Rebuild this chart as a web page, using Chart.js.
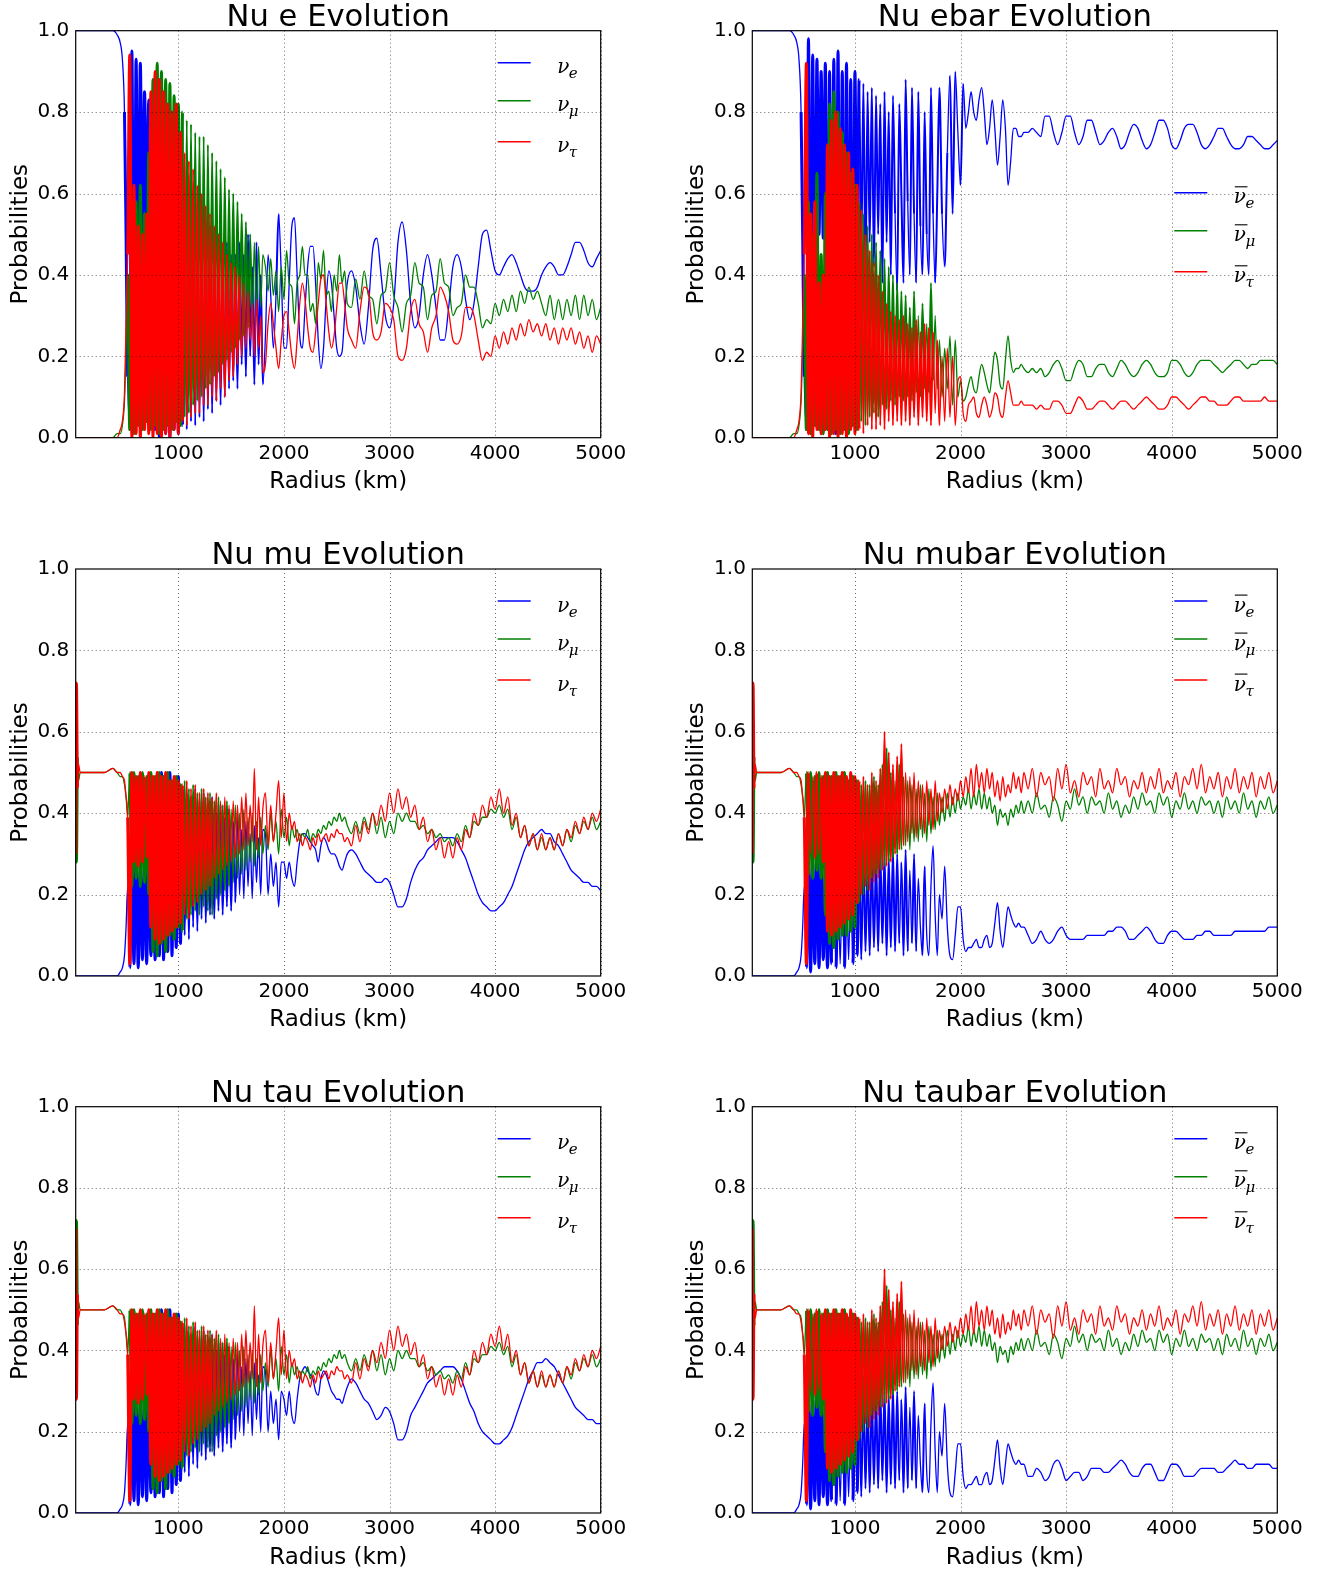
<!DOCTYPE html>
<html>
<head>
<meta charset="utf-8">
<script src="https://cdn.jsdelivr.net/npm/chart.js@4.4.1/dist/chart.umd.min.js"></script>
<style>
  html, body { margin: 0; padding: 0; background: #fff; overflow: hidden; width: 1325px; height: 1572px; }
  canvas { position: absolute; }
</style>
</head>
<body>
<script>
// Radius grid (km), split in four pieces: start, dense oscillations, middle, far tail
const rStart = [28, 35, 45, 55, 70, 90, 120, 200, 300, 380, 420, 450, 470, 490, 505, 520];
const rDense = [540, 560, 580, 600, 620, 640, 660, 680, 700, 720, 740, 760, 780, 800, 820, 840,
  860, 880, 900, 920, 940, 960, 980, 1000, 1020, 1040, 1060, 1080, 1100, 1120, 1140, 1160,
  1180, 1200, 1220, 1240, 1260, 1280, 1300, 1320, 1340, 1360, 1380, 1400, 1420, 1440, 1460, 1480,
  1500, 1520, 1540, 1560, 1580, 1600, 1620, 1640, 1660, 1680, 1700, 1720, 1740, 1760, 1780, 1800];
const rMid = [1825, 1850, 1875, 1900, 1925, 1950, 1975, 2000, 2025, 2050, 2075, 2100, 2125, 2150, 2175, 2200,
  2225, 2250, 2275, 2300, 2325, 2350, 2375, 2400, 2425, 2450, 2475, 2500, 2525, 2550, 2575, 2600];
const rLate = [2640, 2680, 2720, 2760, 2800, 2840, 2880, 2920, 2960, 3000, 3040, 3080, 3120, 3160, 3200,
  3240, 3280, 3320, 3360, 3400, 3440, 3480, 3520, 3560, 3600, 3640, 3680, 3720, 3760, 3800,
  3840, 3880, 3920, 3960, 4000, 4040, 4080, 4120, 4160, 4200, 4240, 4280, 4320, 4360, 4400,
  4440, 4480, 4520, 4560, 4600, 4640, 4680, 4720, 4760, 4800, 4840, 4880, 4920, 4960, 5000];

const xTicks = [1000, 2000, 3000, 4000, 5000];
const yTicks = [0, 0.2, 0.4, 0.6, 0.8, 1.0];

// probabilities in percent, one sub-array per radius piece
// Nu e
const eB = [
  [100,100,100,100,100,100,100,100,100,100,99,97,93,80,50,15],
  [5,95,10,93,30,92,48,85,50,83,5,78,2,75,0,72,
   70,1,72,0,68,2,65,1,62,3,60,2,58,4,55,3,
   55,5,52,4,50,7,50,6,48,9,50,8,45,10,48,12,
   45,14,45,12,48,18,45,15,50,20,42,13,48,18,40,13],
  [25,45,35,22,35,55,40,22,22,38,52,54,40,25,22,32,
   42,47,47,38,24,17,22,34,41,38,30,22,20,21,30,38],
  [41,37,28,23,32,46,49,40,30,27,33,48,53,46,33,
   27,30,40,45,40,32,24,24,32,42,45,42,34,29,33,
   42,50,51,46,41,40,42,44,45,43,40,37,36,36,37,
   40,42,43,42,40,40,42,45,48,48,46,43,42,44,46]
];
const eG = [
  [0,0,0,0,0,0,0,0,0,0,1,1,3,9,22,40],
  [2,52,1,58,3,62,2,55,4,70,2,88,3,92,1,90,
   2,88,3,87,2,84,4,82,3,80,5,78,6,77,8,75,
   9,74,10,74,12,72,13,70,15,68,16,66,18,64,19,61,
   21,60,22,58,24,55,25,53,27,50,28,48,30,47,32,45],
  [42,36,44,35,41,31,42,34,46,38,37,28,38,40,47,40,
   40,31,33,28,43,39,46,35,36,31,40,36,45,38,41,33],
  [32,39,34,41,35,34,28,35,36,43,35,32,26,33,35,
   43,38,37,29,35,36,44,38,37,30,32,33,40,37,37,
   33,27,29,28,33,30,34,31,35,31,36,33,37,34,36,
   33,30,35,29,34,29,34,30,35,29,35,30,34,29,32]
];
const eR = [
  [0,0,0,0,0,0,0,0,0,0,0,2,4,11,28,45],
  [94,0,62,1,52,0,50,2,55,1,85,0,90,1,88,0,
   85,1,82,0,80,2,82,1,75,4,70,3,68,5,66,6,
   62,6,60,8,57,8,55,10,52,9,50,12,48,10,45,14,
   43,15,42,18,40,20,38,22,36,24,33,20,34,22,30,16],
  [18,28,33,28,22,17,24,30,31,26,20,17,24,33,38,34,
   27,22,21,26,33,39,40,33,26,22,25,32,38,38,33,27],
  [24,22,31,37,36,26,24,26,33,32,29,20,19,22,31,
   34,28,26,21,27,30,37,35,31,24,23,25,32,32,30,
   24,19,21,20,25,22,26,23,27,24,28,25,29,26,28,
   25,28,24,27,23,27,24,27,23,26,22,25,21,25,23]
];

// Nu ebar
const ebB = [
  [100,100,100,100,100,100,100,100,100,100,99,97,93,80,50,15],
  [4,98,8,94,20,93,50,90,49,92,3,90,2,93,1,95,
   3,90,2,92,5,88,8,90,35,88,45,87,40,85,48,86,
   42,84,50,82,38,85,48,80,40,84,55,36,82,60,38,88,
   58,40,86,55,38,85,52,40,80,50,40,86,55,38,60,86],
  [55,42,70,89,55,90,75,62,87,76,80,85,80,78,83,86,
   80,72,76,83,76,67,74,83,76,62,68,76,76,74,74,75],
  [75,76,75,74,79,79,75,72,75,79,79,75,72,74,78,
   78,75,72,73,75,76,74,71,72,75,77,76,73,71,72,
   75,78,78,76,72,71,73,76,77,77,75,72,71,72,74,
   76,76,74,72,71,71,72,74,74,73,72,71,71,72,73]
];
const ebG = [
  [0,0,0,0,0,0,0,0,0,0,1,1,3,9,22,40],
  [2,58,1,50,3,65,2,45,1,60,2,82,1,85,2,80,
   1,75,2,70,1,65,3,62,2,58,4,55,3,52,5,50,
   6,48,5,46,8,44,7,42,9,40,8,38,10,36,9,35,
   10,32,9,36,11,30,10,33,12,28,11,38,14,30,12,24],
  [10,22,12,25,8,24,10,14,9,10,13,15,12,11,15,18,
   16,13,11,16,21,19,13,12,19,25,19,16,17,17,18,17],
  [16,17,16,17,15,16,18,19,17,14,14,17,19,18,15,
   15,17,18,18,16,15,17,19,18,16,15,16,18,19,18,
   16,15,15,16,19,19,18,16,15,16,18,19,19,19,18,
   17,16,17,18,19,19,18,17,18,18,19,19,19,19,18]
];
const ebR = [
  [0,0,0,0,0,0,0,0,0,0,0,2,4,11,28,45],
  [92,1,55,0,58,2,38,1,40,2,72,0,78,1,80,0,
   76,1,72,0,70,2,66,1,62,2,56,1,50,3,46,2,
   43,2,40,3,36,2,33,4,31,3,30,4,29,3,30,4,
   28,3,27,5,29,3,26,5,28,4,27,3,26,6,24,3],
  [20,4,22,5,20,3,14,15,6,4,8,9,10,6,5,8,
   10,8,5,7,11,10,6,5,10,14,11,8,8,8,9,8],
  [8,8,7,8,7,7,9,9,8,6,6,8,10,9,7,
   7,8,9,9,8,7,8,9,9,8,7,8,9,10,9,
   8,7,7,8,10,10,9,8,7,8,9,10,10,9,9,
   8,8,8,9,10,10,9,9,9,9,9,10,9,9,9]
];

// Nu mu
const muB = [
  [0,0,0,0,0,0,0,0,0,0,0,1,2,5,12,22],
  [2,28,3,30,2,27,4,29,3,30,5,45,4,48,5,50,
   4,49,6,50,5,47,7,49,8,46,10,45,9,44,12,46,
   11,43,14,45,13,42,15,44,14,40,16,42,15,39,17,41,
   16,38,18,40,20,36,19,38,22,35,19,37,23,34,20,36],
  [35,20,30,22,28,17,28,28,24,28,24,22,28,33,35,35,
   34,33,32,31,28,32,34,33,31,30,30,29,27,26,28,30],
  [31,30,28,26,25,24,23,23,24,23,20,17,17,19,23,
   26,28,29,31,32,33,34,34,34,34,33,31,29,26,23,
   20,18,17,16,16,17,18,20,22,25,28,31,33,34,35,
   36,35,35,33,32,30,28,26,25,24,23,23,22,22,21]
];
const muG = [
  [70,28,54,48,50,50,50,50,50,51,50,49,49,47,44,39],
  [50,22,50,24,49,22,50,23,49,20,50,6,49,5,50,8,
   49,6,50,10,48,9,49,12,47,11,48,14,46,15,47,16,
   45,15,46,17,44,16,45,15,43,19,44,20,42,21,43,22,
   41,23,42,24,40,25,41,26,39,28,40,27,38,29,39,30],
  [37,31,40,33,38,30,41,34,39,32,37,34,36,33,35,34,
   36,33,35,34,36,35,37,36,38,37,39,38,40,38,39,37],
  [35,38,35,39,36,40,35,39,34,38,35,40,38,40,38,
   38,36,37,35,36,34,35,33,34,32,35,33,37,34,38,
   37,39,39,41,40,42,39,41,36,39,34,37,32,35,31,
   34,31,34,31,35,32,36,33,37,35,38,36,39,36,38]
];
const muR = [
  [30,72,46,52,50,50,50,50,50,51,50,50,49,48,44,39],
  [3,50,28,49,27,50,28,49,29,50,12,49,9,50,8,49,
   9,50,10,48,11,49,12,48,13,47,15,48,14,46,17,47,
   18,45,20,46,21,45,22,44,24,45,25,43,26,44,27,42,
   28,43,29,42,30,44,31,45,32,42,33,51,31,44,32,41],
  [45,32,42,33,40,48,34,45,33,40,36,38,33,35,32,34,
   33,31,34,32,35,33,34,35,33,35,34,36,35,35,33,34],
  [32,37,33,38,35,40,37,42,38,45,40,46,41,44,39,
   42,36,39,33,36,31,34,29,33,29,34,31,36,34,40,
   37,42,39,44,41,46,40,44,37,40,34,37,32,35,31,
   35,31,34,31,35,32,36,34,38,35,39,36,40,38,41]
];

// Nu mubar
const mbB = [
  [0,0,0,0,0,0,0,0,0,0,0,1,2,5,12,22],
  [2,30,1,28,3,30,2,29,4,25,2,24,3,22,2,23,
   3,22,2,24,4,23,3,25,5,29,4,30,6,28,5,30,
   7,29,6,31,8,30,5,29,7,31,6,30,8,28,5,31,
   6,26,8,30,6,24,12,5,27,10,5,22,32,15,5,20],
  [14,27,12,5,4,10,17,17,9,6,7,7,8,9,7,7,
   9,10,7,8,13,18,11,7,12,17,15,13,12,13,12,12],
  [10,8,9,11,9,8,9,11,12,10,9,9,9,9,10,
   10,10,10,10,11,11,12,12,11,9,9,10,11,12,11,
   9,8,8,10,11,11,10,9,9,9,10,10,11,11,10,
   10,10,10,10,11,11,11,11,11,11,11,11,12,12,12]
];
const mbG = [
  [70,28,54,48,50,50,50,50,50,51,50,49,49,47,44,39],
  [50,25,50,24,49,26,50,24,49,15,50,8,49,7,50,9,
   49,10,50,10,48,11,49,12,48,18,47,20,48,21,47,24,
   49,25,47,26,52,27,56,28,50,29,48,30,52,31,49,32,
   48,31,47,33,46,33,47,34,45,33,46,35,44,36,45,37],
  [44,38,45,39,44,40,45,41,44,42,46,41,45,42,46,41,
   45,41,44,40,42,37,41,39,40,37,41,39,42,40,43,40],
  [43,40,45,41,42,39,44,42,38,43,41,46,42,44,40,
   44,42,43,40,45,41,43,39,42,40,44,41,45,42,43,
   40,45,42,44,39,43,41,45,41,43,40,44,42,43,40,
   43,39,44,41,43,40,45,41,43,39,43,41,44,40,42]
];
const mbR = [
  [30,72,46,52,50,50,50,50,50,51,50,50,49,48,44,39],
  [3,50,30,49,29,50,30,49,28,50,11,49,10,50,11,49,
   12,50,13,49,14,50,15,49,18,48,20,49,22,47,21,50,
   23,48,24,51,26,60,27,55,28,52,30,54,31,57,32,50,
   33,49,35,50,34,48,36,47,35,48,37,46,36,48,38,45],
  [40,46,41,47,42,46,43,48,44,49,45,51,44,52,46,50,
   45,51,46,50,44,48,43,49,44,47,45,50,46,49,45,50],
  [46,51,44,50,47,49,43,51,46,52,45,48,44,50,47,
   49,44,51,46,48,45,51,47,49,44,48,46,50,45,49,
   46,51,45,48,46,50,44,49,47,51,46,52,45,49,46,
   50,44,49,46,51,45,49,46,50,44,49,46,50,45,48]
];

// Nu tau (oscillating part reads the same as Nu mu)
const tauB = [muB[0], muB[1],
  [35,20,30,22,28,18,30,28,24,30,24,22,28,33,35,36,
   35,34,33,30,29,33,35,34,32,30,29,28,28,27,29,31],
  [33,32,30,28,27,25,23,24,26,25,22,18,18,20,24,
   26,28,30,32,33,34,35,36,36,36,35,33,30,27,25,
   22,20,19,18,17,17,18,19,21,24,27,30,33,35,37,
   37,38,37,36,34,32,30,28,26,25,24,23,23,22,22]
];
const tauG = [[30,72,46,52,50,50,50,50,50,51,50,50,49,48,44,39], muG[1], muG[2], muG[3]];
const tauR = [[70,28,54,48,50,50,50,50,50,51,50,49,49,47,44,39], muR[1], muR[2], muR[3]];

// Nu taubar
const tbB = [mbB[0], mbB[1], mbB[2],
  [9,9,11,10,8,9,12,13,11,8,9,10,10,8,9,
   11,11,11,10,10,11,12,13,12,10,9,9,11,12,12,
   10,8,8,10,12,12,11,9,9,9,10,11,11,11,11,
   10,10,11,12,13,12,12,11,11,12,12,12,12,11,11]
];
const tbG = [tauG[0], mbG[1], mbG[2], mbG[3]];
const tbR = [tauR[0], mbR[1], mbR[2], mbR[3]];

const FONT = 'DejaVu Sans';
const colors = ['#0000ff', '#008000', '#ff0000'];
const subs = ['e', 'μ', 'τ'];
const rChunks = [rStart, rDense, rMid, rLate];

function toPoints(series) {
  const pts = [];
  series.forEach((chunk, k) => {
    if (chunk.length !== rChunks[k].length) console.warn('length mismatch', k, chunk.length);
    chunk.forEach((v, i) => pts.push({ x: rChunks[k][i], y: v / 100 }));
  });
  return pts;
}

const panels = [
  { title: 'Nu e Evolution', series: [eB, eG, eR], bar: false, legend: [32, 70, 111], col: 0, row: 0 },
  { title: 'Nu ebar Evolution', series: [ebB, ebG, ebR], bar: true, legend: [162, 200, 241], col: 1, row: 0 },
  { title: 'Nu mu Evolution', series: [muB, muG, muR], bar: false, legend: [32, 70, 111], col: 0, row: 1 },
  { title: 'Nu mubar Evolution', series: [mbB, mbG, mbR], bar: true, legend: [32, 70, 111], col: 1, row: 1 },
  { title: 'Nu tau Evolution', series: [tauB, tauG, tauR], bar: false, legend: [32, 70, 111], col: 0, row: 2 },
  { title: 'Nu taubar Evolution', series: [tbB, tbG, tbR], bar: true, legend: [32, 70, 111], col: 1, row: 2 }
];
const cols = [{ cx: 0, cw: 660, plotLeft: 75.7 }, { cx: 676, cw: 649, plotLeft: 752.3 }];
const rows = [{ cy: 0, plotTop: 30.7, plotH: 407 }, { cy: 538, plotTop: 569, plotH: 407 }, { cy: 1076, plotTop: 1106.7, plotH: 406.3 }];
const PLOT_W = 525, CANVAS_H = 500;
const TITLE_SIZE = 30.6, TITLE_PAD_BOTTOM = -2.5;

// grid, frame and the math legend
const nuPlugin = {
  id: 'nuLegend',
  afterDatasetsDraw(chart, args, opts) {
    const { ctx, chartArea: a, scales: { x, y } } = chart;
    ctx.save();
    ctx.strokeStyle = 'rgba(0,0,0,0.6)';
    ctx.lineWidth = 1;
    ctx.setLineDash([1, 3]);
    ctx.beginPath();
    xTicks.forEach(v => {
      const px = Math.round(x.getPixelForValue(v)) + 0.5;
      ctx.moveTo(px, a.top); ctx.lineTo(px, a.bottom);
    });
    yTicks.slice(1, 5).forEach(v => {
      const py = Math.round(y.getPixelForValue(v)) + 0.5;
      ctx.moveTo(a.left, py); ctx.lineTo(a.right, py);
    });
    ctx.stroke();
    ctx.setLineDash([]);
    ctx.strokeStyle = '#000';
    ctx.lineWidth = 1.2;
    ctx.strokeRect(a.left, a.top, a.right - a.left, a.bottom - a.top);

    opts.rows.forEach((off, i) => {
      const ly = a.top + off;
      ctx.strokeStyle = colors[i];
      ctx.lineWidth = 1.4;
      ctx.beginPath(); ctx.moveTo(a.right - 103, ly); ctx.lineTo(a.right - 70, ly); ctx.stroke();
      const tx = a.right - 43.5, base = ly + 10.6;
      ctx.fillStyle = '#000';
      ctx.textAlign = 'left';
      ctx.textBaseline = 'alphabetic';
      ctx.font = 'italic 20px "DejaVu Serif"';
      ctx.fillText('ν', tx, base);
      const w = ctx.measureText('ν').width;
      if (opts.bar) {
        ctx.strokeStyle = '#000'; ctx.lineWidth = 1.1;
        ctx.beginPath(); ctx.moveTo(tx + 1, base - 16.5); ctx.lineTo(tx + w + 1.5, base - 16.5); ctx.stroke();
      }
      ctx.font = 'italic 15px "DejaVu Serif"';
      ctx.fillText(subs[i], tx + w - 0.5, base + 5);
    });
    ctx.restore();
  }
};

panels.forEach(p => {
  const c = cols[p.col], r = rows[p.row];
  const canvas = document.createElement('canvas');
  canvas.width = c.cw; canvas.height = CANVAS_H;
  canvas.style.left = c.cx + 'px'; canvas.style.top = r.cy + 'px';
  document.body.appendChild(canvas);

  const yAxisW = c.plotLeft - c.cx;
  const padTop = r.plotTop - r.cy - (TITLE_SIZE + TITLE_PAD_BOTTOM);
  const padRight = c.cw - yAxisW - PLOT_W;
  const xAxisH = CANVAS_H - (r.plotTop - r.cy) - r.plotH;

  const datasets = p.series.map((s, i) => ({
    label: 'nu' + subs[i],
    data: toPoints(s),
    borderColor: colors[i],
    borderWidth: 1.3,
    pointRadius: 0,
    cubicInterpolationMode: 'monotone',
    clip: 0,
    order: 3 - i,
    segment: {
      // unresolved fast oscillations: steep swings drawn wider so they fill in
      borderWidth: ctx => {
        if (Math.abs(ctx.p1.parsed.y - ctx.p0.parsed.y) <= 0.2) return undefined;
        return ctx.p1.parsed.x < 1050 ? 3 : 2;
      }
    }
  }));

  new Chart(canvas, {
    type: 'line',
    data: { datasets },
    options: {
      responsive: false,
      animation: false,
      devicePixelRatio: 1,
      events: [],
      layout: { padding: { left: 0, top: padTop, right: padRight, bottom: 0 } },
      plugins: {
        legend: { display: false },
        tooltip: { enabled: false },
        title: {
          display: true, text: p.title, fullSize: false, color: '#000',
          padding: { top: 0, bottom: TITLE_PAD_BOTTOM },
          font: { family: FONT, size: TITLE_SIZE, weight: 'normal', lineHeight: 1 }
        },
        nuLegend: { bar: p.bar, rows: p.legend }
      },
      scales: {
        x: {
          type: 'linear', min: 28, max: 5000,
          grid: { display: false, drawTicks: false },
          border: { display: false },
          afterBuildTicks: s => { s.ticks = xTicks.map(v => ({ value: v })); },
          afterFit: s => { s.height = xAxisH; },
          ticks: {
            color: '#000', font: { family: FONT, size: 20 }, padding: 4,
            maxRotation: 0, autoSkip: false, callback: v => String(v)
          },
          title: {
            display: true, text: 'Radius (km)', color: '#000',
            font: { family: FONT, size: 23, lineHeight: 1.2 }, padding: { top: 0, bottom: 4.5 }
          }
        },
        y: {
          min: 0, max: 1,
          grid: { display: false, drawTicks: false },
          border: { display: false },
          afterBuildTicks: s => { s.ticks = yTicks.map(v => ({ value: v })); },
          afterFit: s => { s.width = yAxisW; },
          ticks: {
            color: '#000', font: { family: FONT, size: 20 }, padding: 6.4,
            callback: v => v.toFixed(1)
          },
          title: {
            display: true, text: 'Probabilities', color: '#000',
            font: { family: FONT, size: 23, lineHeight: 1.2 }, padding: { top: 7.7, bottom: 0 }
          }
        }
      }
    },
    plugins: [nuPlugin]
  });
});
</script>
</body>
</html>
